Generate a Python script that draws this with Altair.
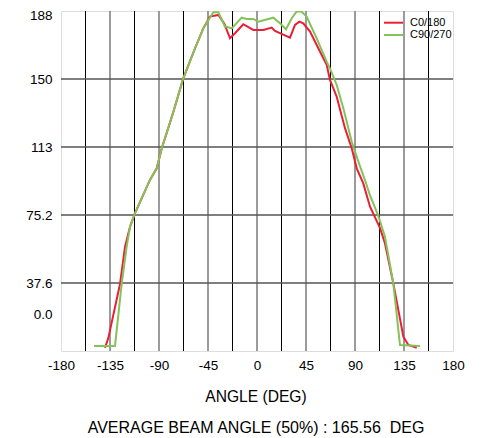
import altair as alt
import pandas as pd

series_names = ["C0/180", "C90/270"]

red_angle = [-139.6, -136.6, -125.8, -121.2, -116.6, -112, -98.3, -92.1, -87.5, -76.9, -67.7,
             -56.9, -49.3, -43.2, -35.5, -30, -24.8, -20.2, -12.6, -3.4, 5.8, 13.5, 16.5, 23.6,
             30.3, 34.9, 38.9, 42.5, 48.7, 57.9, 64, 67, 73.2, 80.8, 87, 91.6, 97.6, 103.8, 113,
             117.5, 125.2, 134.4, 139, 146.7]
red_value = [1.8, 7, 37, 57.7, 68.7, 76.3, 94.6, 101, 112, 132, 150.8,
             167.4, 178.4, 184.9, 185.8, 181, 172.9, 175.7, 180.7, 177.5, 177.5, 178.8, 177, 175.1,
             173.3, 180.3, 182.1, 181.2, 176.6, 165.5, 158.2, 149.9, 140.6, 123.2, 112.1, 101, 92.7,
             79.8, 67.9, 59.6, 37.4, 7.9, 3.3, 1.8]

green_angle = [-149.7, -130.4, -124.3, -119.7, -116.6, -112, -98.3, -92.1, -87.5, -76.9, -67.7,
               -56.9, -49.3, -40.1, -35.5, -29.4, -27.8, -23.2, -14.1, -9.5, -3.4, 1.2, 15, 21.1,
               26.6, 31.9, 36.5, 41, 45.6, 54.8, 64, 67, 73.2, 79.3, 87, 93.1, 100.7, 103.8, 111.4,
               117.5, 125.2, 131.3, 149.7]
green_value = [2.8, 2.8, 37, 57.7, 68.7, 76.3, 94.6, 101, 112, 132, 150.8,
               167.4, 178.4, 187.3, 187.3, 179.3, 179.3, 178.4, 184.3, 183.6, 183.6, 182.1, 184.3,
               181.2, 177.9, 184, 187.8, 187.6, 184.9, 172.9, 160, 156.3, 147.1, 134.2, 115.7, 104.7,
               91.8, 86, 74.7, 63.2, 37.4, 3.3, 2.8]

x_ticks = [-180, -135, -90, -45, 0, 45, 90, 135, 180]
x_minor = [-157.5, -112.5, -67.5, -22.5, 22.5, 67.5, 112.5, 157.5]
y_grid = [37.6, 75.2, 112.8, 150.4]
y_ticks = [20, 37.6, 75.2, 112.8, 150.4, 188]

x_title = "ANGLE (DEG)"
note = "AVERAGE BEAM ANGLE (50%) : 165.56 \u00a0DEG"

colors = ["#ea1f35", "#84c25a"]
FONT = "Liberation Sans"

df = pd.concat([
    pd.DataFrame({"angle": red_angle, "value": red_value, "series": series_names[0], "order": range(len(red_angle))}),
    pd.DataFrame({"angle": green_angle, "value": green_value, "series": series_names[1], "order": range(len(green_angle))}),
])

xscale = alt.Scale(domain=[-180, 180], nice=False, zero=False)
yscale = alt.Scale(domain=[0, 188], nice=False, zero=True)

base_x = alt.X("angle:Q", scale=xscale,
               axis=alt.Axis(values=x_ticks, grid=False, ticks=False, domain=False, title=None,
                             labelFont=FONT, labelFontSize=13.5, labelColor="#000",
                             labelPadding=7, labelFlush=False,
                             labelExpr="'' + datum.value"))
base_y = alt.Y("value:Q", scale=yscale,
               axis=alt.Axis(values=y_ticks, grid=False, ticks=False, domain=False, title=None,
                             labelFont=FONT, labelFontSize=13.5, labelColor="#000",
                             labelPadding=9, labelFlush=True, labelFlushOffset=3,
                             labelExpr="datum.value == 20 ? '0.0' : (datum.value > 100 ? format(datum.value, '.0f') : format(datum.value, '.1f'))"))

minor_grid = alt.Chart(pd.DataFrame({"angle": x_minor})).mark_rule(color="#000000", strokeWidth=1).encode(
    x=alt.X("angle:Q", scale=xscale))
major_grid = alt.Chart(pd.DataFrame({"angle": x_ticks[1:-1]})).mark_rule(color="#7a7a7a", strokeWidth=1.5).encode(
    x=alt.X("angle:Q", scale=xscale))
h_grid = alt.Chart(pd.DataFrame({"value": y_grid})).mark_rule(color="#555555", strokeWidth=1.3).encode(
    y=alt.Y("value:Q", scale=yscale))

lines = alt.Chart(df).mark_line(strokeWidth=2, clip=True).encode(
    x=base_x,
    y=base_y,
    color=alt.Color("series:N", scale=alt.Scale(domain=series_names, range=colors), legend=None),
    order="order:Q",
)

legend_layers = []
for i, (name, col) in enumerate(zip(series_names, colors)):
    yy = 11.7 + i * 12.3
    d = pd.DataFrame({"series": [name]})
    legend_layers.append(alt.Chart(d).mark_rule(strokeWidth=2, color=col).encode(
        x=alt.value(323), x2=alt.value(342), y=alt.value(yy)))
    legend_layers.append(alt.Chart(d).mark_text(align="left", baseline="middle", font=FONT,
                                                fontSize=11, color="#000").encode(
        x=alt.value(349), y=alt.value(yy), text="series:N"))

title_text = alt.Chart(pd.DataFrame({"t": [x_title]})).mark_text(
    font=FONT, fontSize=15.6, baseline="middle", align="center", color="#000").encode(
    x=alt.value(195), y=alt.value(386), text="t:N")
note_text = alt.Chart(pd.DataFrame({"t": [note]})).mark_text(
    font=FONT, fontSize=16, baseline="middle", align="center", color="#000").encode(
    x=alt.value(195), y=alt.value(417), text="t:N")

chart = alt.layer(
    minor_grid, major_grid, h_grid, lines, *legend_layers, title_text, note_text
).properties(
    width=392, height=340,
    autosize=alt.AutoSizeParams(type="none"),
    padding={"left": 53, "top": 3, "right": 20, "bottom": 100},
).configure_view(stroke="#404040", strokeWidth=1.5).configure(background="white")

chart.save("out.html", embed_options={"renderer": "svg", "actions": False})
